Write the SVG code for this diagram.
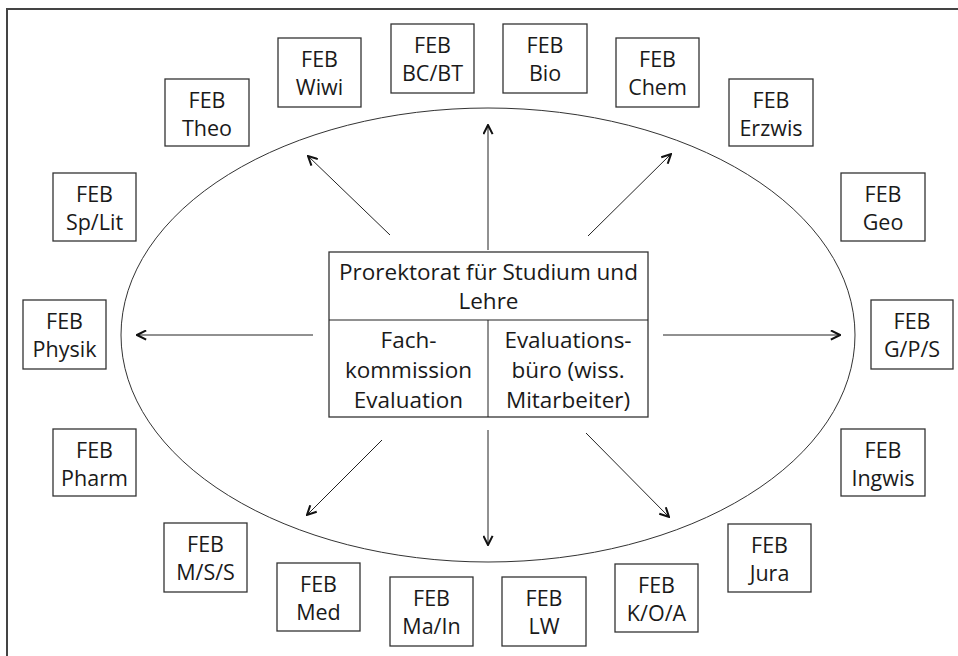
<svg xmlns="http://www.w3.org/2000/svg" width="958" height="656" viewBox="0 0 958 656">
<style>
.box{fill:#fff;stroke:#333;stroke-width:1.3}
.t{font-family:"Open Sans","Liberation Sans",sans-serif;font-size:21.5px;fill:#1a1a1a;text-anchor:middle}
.ct{font-size:22.5px}
.c{stroke:#222;stroke-width:1;fill:none}
.frame{stroke:#444;stroke-width:2;fill:none}
</style>
<defs>
<marker id="ah" viewBox="0 0 12 12" refX="11" refY="6" markerWidth="11" markerHeight="11" markerUnits="userSpaceOnUse" orient="auto">
<path d="M1,1 L11,6 L1,11" fill="none" stroke="#111" stroke-width="2.2"/>
</marker>
</defs>
<rect width="958" height="656" fill="#fff"/>
<path class="frame" d="M7,656 L7,9 L958,9"/>
<ellipse cx="488" cy="335" rx="367" ry="227" fill="none" stroke="#333" stroke-width="1"/>
<g id="connectors">
<line class="c" x1="313" y1="335" x2="137" y2="335" marker-end="url(#ah)"/>
<line class="c" x1="663" y1="335" x2="840" y2="335" marker-end="url(#ah)"/>
<line class="c" x1="488" y1="250" x2="488" y2="125" marker-end="url(#ah)"/>
<line class="c" x1="488" y1="430" x2="488" y2="545" marker-end="url(#ah)"/>
<line class="c" x1="390" y1="235" x2="308" y2="156" marker-end="url(#ah)"/>
<line class="c" x1="588" y1="236" x2="671" y2="154" marker-end="url(#ah)"/>
<line class="c" x1="382" y1="440" x2="307" y2="515" marker-end="url(#ah)"/>
<line class="c" x1="586" y1="433" x2="669" y2="517" marker-end="url(#ah)"/>
</g>
<g id="center">
<rect class="box" x="329" y="252" width="319" height="165"/>
<line class="c" x1="329" y1="320" x2="648" y2="320" stroke-width="1.3"/>
<line class="c" x1="488" y1="320" x2="488" y2="417" stroke-width="1.3"/>
<text class="t ct" x="488.5" y="280">Prorektorat für Studium und</text>
<text class="t ct" x="488.5" y="309">Lehre</text>
<text class="t ct" x="408.5" y="348">Fach-</text>
<text class="t ct" x="408.5" y="378">kommission</text>
<text class="t ct" x="408.5" y="408">Evaluation</text>
<text class="t ct" x="568" y="348">Evaluations-</text>
<text class="t ct" x="568" y="378">büro (wiss.</text>
<text class="t ct" x="568" y="408">Mitarbeiter)</text>
</g>
<g id="theo"><rect class="box" x="165" y="79" width="84" height="67"/><text class="t" x="207" y="108">FEB</text><text class="t" x="207" y="136">Theo</text></g>
<g id="wiwi"><rect class="box" x="278" y="38" width="83" height="69"/><text class="t" x="319.5" y="67">FEB</text><text class="t" x="319.5" y="95">Wiwi</text></g>
<g id="bcbt"><rect class="box" x="391" y="24" width="83" height="69"/><text class="t" x="432.5" y="53">FEB</text><text class="t" x="432.5" y="81">BC/BT</text></g>
<g id="bio"><rect class="box" x="503" y="24" width="84" height="69"/><text class="t" x="545" y="53">FEB</text><text class="t" x="545" y="81">Bio</text></g>
<g id="chem"><rect class="box" x="616" y="38" width="83" height="69"/><text class="t" x="657.5" y="67">FEB</text><text class="t" x="657.5" y="95">Chem</text></g>
<g id="erzwis"><rect class="box" x="729" y="79" width="84" height="67"/><text class="t" x="771" y="108">FEB</text><text class="t" x="771" y="136">Erzwis</text></g>
<g id="split"><rect class="box" x="53" y="173" width="83" height="68"/><text class="t" x="94.5" y="202">FEB</text><text class="t" x="94.5" y="230">Sp/Lit</text></g>
<g id="geo"><rect class="box" x="841" y="173" width="84" height="68"/><text class="t" x="883" y="202">FEB</text><text class="t" x="883" y="230">Geo</text></g>
<g id="physik"><rect class="box" x="23" y="300" width="83" height="69"/><text class="t" x="64.5" y="329">FEB</text><text class="t" x="64.5" y="357">Physik</text></g>
<g id="gps"><rect class="box" x="871" y="300" width="82" height="69"/><text class="t" x="912" y="329">FEB</text><text class="t" x="912" y="357">G/P/S</text></g>
<g id="pharm"><rect class="box" x="53" y="429" width="83" height="67"/><text class="t" x="94.5" y="458">FEB</text><text class="t" x="94.5" y="486">Pharm</text></g>
<g id="ingwis"><rect class="box" x="841" y="429" width="84" height="67"/><text class="t" x="883" y="458">FEB</text><text class="t" x="883" y="486">Ingwis</text></g>
<g id="mss"><rect class="box" x="164" y="523" width="83" height="69"/><text class="t" x="205.5" y="552">FEB</text><text class="t" x="205.5" y="580">M/S/S</text></g>
<g id="jura"><rect class="box" x="728" y="524" width="83" height="68"/><text class="t" x="769.5" y="553">FEB</text><text class="t" x="769.5" y="581">Jura</text></g>
<g id="med"><rect class="box" x="277" y="563" width="83" height="68"/><text class="t" x="318.5" y="592">FEB</text><text class="t" x="318.5" y="620">Med</text></g>
<g id="koa"><rect class="box" x="615" y="564" width="83" height="68"/><text class="t" x="656.5" y="593">FEB</text><text class="t" x="656.5" y="621">K/O/A</text></g>
<g id="main"><rect class="box" x="390" y="577" width="83" height="69"/><text class="t" x="431.5" y="606">FEB</text><text class="t" x="431.5" y="634">Ma/In</text></g>
<g id="lw"><rect class="box" x="502" y="577" width="84" height="69"/><text class="t" x="544" y="606">FEB</text><text class="t" x="544" y="634">LW</text></g>
</svg>
